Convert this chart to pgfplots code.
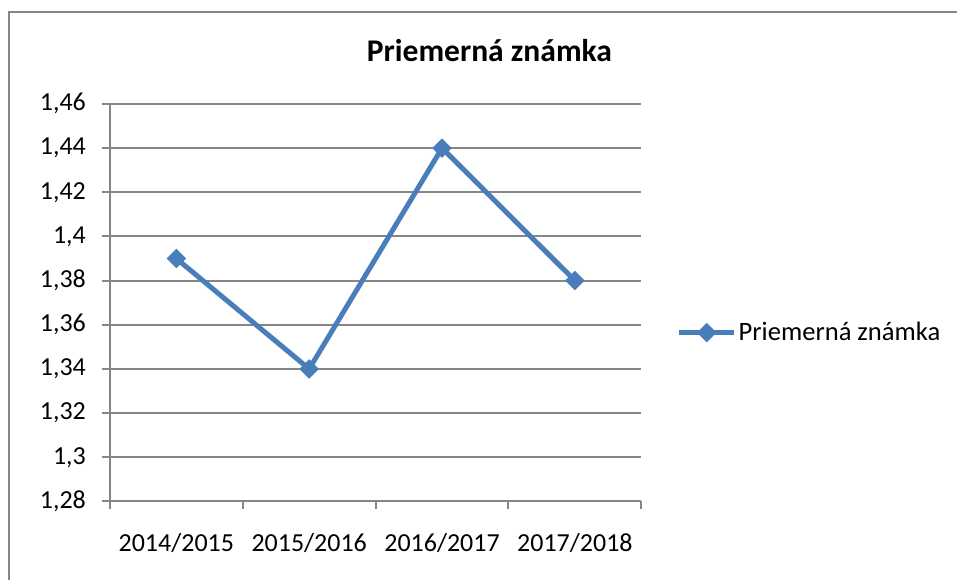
\documentclass[border=0pt]{standalone}
\usepackage{fontspec}
\setmainfont{Carlito}
\usepackage{pgfplots}
\pgfplotsset{compat=1.18}

\definecolor{serie}{RGB}{74,126,187}
\definecolor{mriezka}{RGB}{134,134,134}

\begin{document}
\begin{tikzpicture}
  % page = 958 x 581 px, 1 px = 0.5 pt
  \path (0,0) rectangle (479pt,290.5pt);
  % chart frame (only top and left edge visible)
  \draw[mriezka, line width=1pt] (4.5pt,0pt) -- (4.5pt,284.5pt) -- (479pt,284.5pt);
  \node[font=\fontsize{15.8}{18}\selectfont\bfseries] at (245pt,265pt) {Priemerná známka};

  \begin{axis}[
      at={(55pt,39.5pt)}, anchor=origin,
      scale only axis,
      width=266pt, height=199pt,
      xmin=0, xmax=4,
      ymin=1.28, ymax=1.46,
      axis x line*=bottom, axis y line*=left,
      axis line style={mriezka, line width=1pt},
      tick style={mriezka, line width=1pt},
      tick align=outside,
      major tick length=4pt,
      xtick={0,1,2,3,4},
      xticklabels={},
      extra x ticks={0.5,1.5,2.5,3.5},
      extra x tick labels={2014/2015,2015/2016,2016/2017,2017/2018},
      extra x tick style={major tick length=0pt, grid=none,
        xticklabel style={yshift=-12.5pt}},
      ytick={1.28,1.30,1.32,1.34,1.36,1.38,1.40,1.42,1.44,1.46},
      ymajorgrids,
      grid style={mriezka, line width=1pt},
      ticklabel style={font=\fontsize{13}{15}\selectfont},
      yticklabel style={xshift=-4.5pt, /pgf/number format/.cd, use comma, fixed, precision=2, assume math mode=true},
      legend style={at={(1.066,0.4246)}, anchor=west, draw=none, fill=none,
        inner sep=0pt, font=\fontsize{13.3}{15}\selectfont,
        nodes={inner sep=1pt}},
      legend image code/.code={
        \draw[#1, mark repeat=2, mark phase=2]
          plot coordinates {(0pt,0pt) (13.75pt,0pt) (27.5pt,0pt)};},
    ]
    \addplot[serie, line width=2.5pt, mark=square*, mark size=3.2pt,
      mark options={solid, fill=serie, line width=0.5pt, rotate=45}] coordinates {
      (0.5,1.39) (1.5,1.34) (2.5,1.44) (3.5,1.38)
    };
    \addlegendentry{Priemerná známka}
  \end{axis}
\end{tikzpicture}
\end{document}
